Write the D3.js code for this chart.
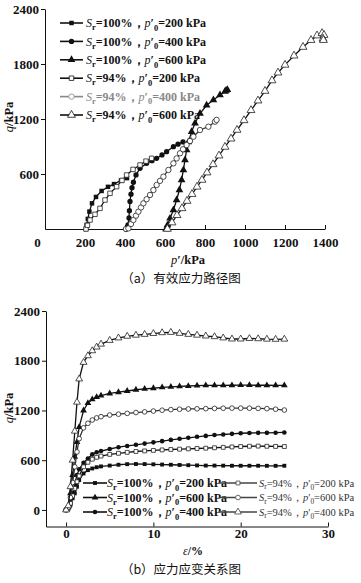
<!DOCTYPE html>
<html>
<head>
<meta charset="utf-8">
<script src="https://cdn.jsdelivr.net/npm/d3@7"></script>
<style>
body { margin: 0; background: #fff; }
svg text { font-family: "Liberation Serif", "Times New Roman", serif; }
.tick text { font-size: 13px; font-weight: bold; fill: #111; }
.axis path, .axis line { stroke: #111; stroke-width: 1; }
.cap { font-family: "Noto Sans CJK SC", sans-serif; font-size: 12.5px; fill: #111; }
</style>
</head>
<body>
<svg id="chart" width="361" height="583"></svg>
<script>
// ---- (a) effective stress paths: [p', q] in kPa
var pathS100p200 = [[205,0],[208,45],[214,110],[222,190],[235,280],[255,350],[283,415],[315,460],[345,490],[380,530],[410,555]];
var pathS100p400 = [[405,0],[415,45],[420,120],[422,200],[425,300],[430,380],[435,450],[442,510],[455,590],[475,662],[508,716],[535,745],[558,771],[585,808],[608,844],[642,898],[665,925],[690,950]];
var pathS100p600 = [[605,0],[612,40],[625,116],[642,207],[658,316],[672,425],[683,535],[692,644],[700,753],[708,862],[717,950],[733,1062],[750,1153],[775,1260],[808,1350],[842,1407],[875,1462],[900,1500],[912,1520],[905,1510]];
var pathS94p200 = [[205,0],[212,40],[225,98],[250,160],[275,225],[300,316],[325,389],[358,462],[385,530],[408,589],[440,650],[475,698],[505,740],[533,771]];
var pathS94p400 = [[405,0],[417,7],[430,55],[442,98],[455,145],[467,189],[480,235],[492,280],[508,325],[525,371],[542,425],[558,480],[575,525],[592,571],[617,644],[642,716],[658,770],[675,826],[690,870],[708,916],[725,960],[742,1007],[775,1080],[817,1116],[850,1171],[858,1190]];
var pathS94p600 = [[612,0],[635,70],[660,150],[685,225],[710,305],[735,380],[760,460],[785,535],[810,615],[840,705],[870,800],[900,895],[930,985],[960,1080],[995,1185],[1030,1295],[1065,1400],[1100,1505],[1135,1620],[1165,1705],[1200,1790],[1245,1890],[1290,1985],[1330,2060],[1360,2110],[1385,2135],[1395,2115],[1390,2075],[1392,2060]];

// ---- (b) stress-strain: shared strain list (%) and q (kPa)
var strain = [0,0.25,0.5,0.75,1,1.25,1.5,2,2.5,3,3.5,4,5,6,7,8,9,10,11,12,13,14,15,16,17,18,19,20,21,22,23,24,25];
var qS100p200 = [0,15,60,140,200,280,360,440,480,500,515,525,535,545,552,554,553,550,547,545,542,540,537,535,535,534,533,533,533,533,532,532,533];
var qS100p400 = [0,20,90,200,320,420,490,570,620,670,695,710,735,757,772,786,800,815,830,845,858,870,882,893,903,910,918,925,928,930,930,932,935];
var qS100p600 = [0,40,200,420,640,820,1000,1200,1290,1335,1362,1380,1405,1420,1435,1450,1460,1468,1478,1485,1490,1495,1500,1502,1503,1503,1504,1505,1505,1504,1504,1503,1502];
var qS94p200 = [0,20,80,170,260,340,410,520,575,612,635,650,670,683,695,705,712,718,724,729,733,737,741,745,750,755,760,765,768,770,768,766,765];
var qS94p400 = [0,30,150,330,520,700,860,990,1045,1085,1110,1125,1145,1155,1165,1175,1183,1193,1203,1210,1215,1218,1220,1222,1225,1227,1228,1228,1227,1225,1222,1215,1205];
var qS94p600 = [0,50,280,600,950,1300,1580,1780,1860,1920,1965,2000,2045,2075,2095,2108,2118,2128,2138,2142,2130,2118,2108,2098,2090,2075,2062,2062,2068,2065,2060,2058,2060];

// ticks
var pTicks = [0,200,400,600,800,1000,1200,1400];
var qTicksA = [600,1200,1800,2400];
var qTicksB = [0,600,1200,1800,2400];
var epsTicks = [0,10,20,30];

// legend labels [Sr, p0]
var legendA = [["100","200"],["100","400"],["100","600"],["94","200"],["94","400"],["94","600"]];
var legendB = [["100","200"],["94","200"],["100","600"],["94","600"],["100","400"],["94","400"]];

var svg = d3.select("#chart");
var fmt = d3.format("d");

// marker styles
var styles = {
  fsq: {sym: d3.symbolSquare, fill: "#111", line: "#111"},
  fci: {sym: d3.symbolCircle, fill: "#111", line: "#111"},
  ftr: {sym: d3.symbolTriangle, fill: "#111", line: "#111"},
  osq: {sym: d3.symbolSquare, fill: "#fff", line: "#111"},
  oci: {sym: d3.symbolCircle, fill: "#fff", line: "#333"},
  otr: {sym: d3.symbolTriangle, fill: "#fff", line: "#111"}
};
var symSize = {fsq: 1, fci: 1.1, ftr: 1.3, osq: 1, oci: 1.15, otr: 1.35};

function drawSeries(g, pts, st, base) {
  var s = styles[st];
  g.append("path")
    .datum(pts)
    .attr("fill", "none")
    .attr("stroke", s.line)
    .attr("stroke-width", 1.3)
    .attr("d", d3.line().x(function(d) { return d[0]; }).y(function(d) { return d[1]; }));
  g.selectAll(".m" + st)
    .data(pts)
    .enter().append("path")
    .attr("transform", function(d) { return "translate(" + d[0] + "," + d[1] + ")"; })
    .attr("d", d3.symbol().type(s.sym).size(base * symSize[st]))
    .attr("fill", s.fill)
    .attr("stroke", s.fill == "#fff" ? "#222" : "none")
    .attr("stroke-width", 0.8);
}

// S_r=..%，p'_0=.. kPa as a single text element
function legendText(g, x, y, sr, p0, size, weight, color) {
  var t = g.append("text").attr("x", x).attr("y", y).attr("dy", "0.35em")
    .attr("font-size", size + "px").attr("font-weight", weight).attr("fill", color);
  t.append("tspan").attr("font-style", "italic").attr("font-weight", "normal").text("S");
  t.append("tspan").attr("font-size", (size * 0.7) + "px").attr("dy", size * 0.25).text("r");
  t.append("tspan").attr("dy", -size * 0.25).text("=" + sr + "%，");
  t.append("tspan").attr("font-style", "italic").attr("font-weight", "normal").text("p");
  t.append("tspan").text("′");
  t.append("tspan").attr("font-size", (size * 0.7) + "px").attr("dy", size * 0.3).text("0");
  t.append("tspan").attr("dy", -size * 0.3).text("=" + p0 + " kPa");
}

function legendSample(g, x, y, st, w, base, color) {
  g.append("line").attr("x1", x).attr("x2", x + w).attr("y1", y).attr("y2", y)
    .attr("stroke", color || "#111").attr("stroke-width", 1.6);
  var s = styles[st];
  g.append("path").attr("transform", "translate(" + (x + w / 2) + "," + y + ")")
    .attr("d", d3.symbol().type(s.sym).size(base * symSize[st]))
    .attr("fill", s.fill).attr("stroke", s.fill == "#fff" ? (color || "#222") : "none").attr("stroke-width", 0.8);
}

// ================= chart (a) =================
var xA = d3.scaleLinear().domain([0, 1400]).range([45, 325]);
var yA = d3.scaleLinear().domain([0, 2400]).range([229, 9]);

var gA = svg.append("g");
gA.append("g").attr("class", "axis").attr("transform", "translate(0," + yA(0) + ")")
  .call(d3.axisBottom(xA).tickValues(pTicks).tickFormat(fmt).tickSizeInner(-4).tickSizeOuter(0).tickPadding(9))
  .selectAll(".tick text").attr("dx", function(d) { return d == 0 ? -8 : 0; });
gA.append("g").attr("class", "axis").attr("transform", "translate(" + xA(0) + ",0)")
  .call(d3.axisLeft(yA).tickValues(qTicksA).tickFormat(fmt).tickSizeInner(4).tickSizeOuter(0).tickPadding(2));

var pathsA = [[pathS100p200, "fsq"], [pathS100p400, "fci"], [pathS100p600, "ftr"],
              [pathS94p200, "osq"], [pathS94p400, "oci"], [pathS94p600, "otr"]];
pathsA.forEach(function(p) {
  drawSeries(gA, p[0].map(function(d) { return [xA(d[0]), yA(d[1])]; }), p[1], 20);
});

var legStA = ["fsq", "fci", "ftr", "osq", "oci", "otr"];
legendA.forEach(function(l, i) {
  var y = 23 + i * 18.4;
  var col = i == 4 ? "#888" : "#111";
  legendSample(gA, 60, y, legStA[i], 23, 20, col);
  legendText(gA, 86, y, l[0], l[1], 12, "bold", col);
});

// axis titles
var tA = gA.append("text").attr("transform", "translate(13,117) rotate(-90)")
  .attr("text-anchor", "middle").attr("font-size", "12.5px").attr("font-weight", "bold").attr("fill", "#111");
tA.append("tspan").attr("font-style", "italic").attr("font-weight", "normal").text("q");
tA.append("tspan").text("/kPa");
var tA2 = gA.append("text").attr("x", 188).attr("y", 264)
  .attr("text-anchor", "middle").attr("font-size", "12.5px").attr("font-weight", "bold").attr("fill", "#111");
tA2.append("tspan").attr("font-style", "italic").attr("font-weight", "normal").text("p");
tA2.append("tspan").text("′/kPa");
gA.append("text").attr("class", "cap").attr("x", 181).attr("y", 283).attr("text-anchor", "middle").text("（a）有效应力路径图");

// ================= chart (b) =================
var xB = d3.scaleLinear().domain([-2.3, 30]).range([46, 328]);
var yB = d3.scaleLinear().domain([-200, 2400]).range([526.5, 311]);

var gB = svg.append("g");
gB.append("g").attr("class", "axis").attr("transform", "translate(0," + yB(-200) + ")")
  .call(d3.axisBottom(xB).tickValues(epsTicks).tickFormat(fmt).tickSizeInner(-4).tickSizeOuter(0).tickPadding(2));
gB.append("g").attr("class", "axis").attr("transform", "translate(" + xB(-2.3) + ",0)")
  .call(d3.axisLeft(yB).tickValues(qTicksB).tickFormat(fmt).tickSizeInner(4).tickSizeOuter(0).tickPadding(2));

var seriesB = [[qS100p200, "fsq"], [qS100p400, "fci"], [qS100p600, "ftr"],
               [qS94p200, "osq"], [qS94p400, "oci"], [qS94p600, "otr"]];
seriesB.forEach(function(s) {
  drawSeries(gB, strain.map(function(e, i) { return [xB(e), yB(s[0][i])]; }), s[1], 15);
});

var legStB = ["fsq", "osq", "ftr", "oci", "fci", "otr"];
legendB.forEach(function(l, i) {
  var row = Math.floor(i / 2), c = i % 2;
  var y = 483 + row * 14.5;
  if (c == 0) {
    legendSample(gB, 83, y, legStB[i], 24, 15);
    legendText(gB, 107, y, l[0], l[1], 12, "bold", "#111");
  } else {
    legendSample(gB, 219, y, legStB[i], 38, 15, "#444");
    legendText(gB, 259, y, l[0], l[1], 10.5, "normal", "#333");
  }
});

var tB = gB.append("text").attr("transform", "translate(13,408) rotate(-90)")
  .attr("text-anchor", "middle").attr("font-size", "12.5px").attr("font-weight", "bold").attr("fill", "#111");
tB.append("tspan").attr("font-style", "italic").attr("font-weight", "normal").text("q");
tB.append("tspan").text("/kPa");
var tB2 = gB.append("text").attr("x", 193).attr("y", 555)
  .attr("text-anchor", "middle").attr("font-size", "12px").attr("font-weight", "bold").attr("fill", "#111");
tB2.append("tspan").attr("font-style", "italic").attr("font-weight", "normal").text("ε");
tB2.append("tspan").text("/%");
gB.append("text").attr("class", "cap").attr("x", 181).attr("y", 574).attr("text-anchor", "middle").text("（b）应力应变关系图");
</script>
</body>
</html>
